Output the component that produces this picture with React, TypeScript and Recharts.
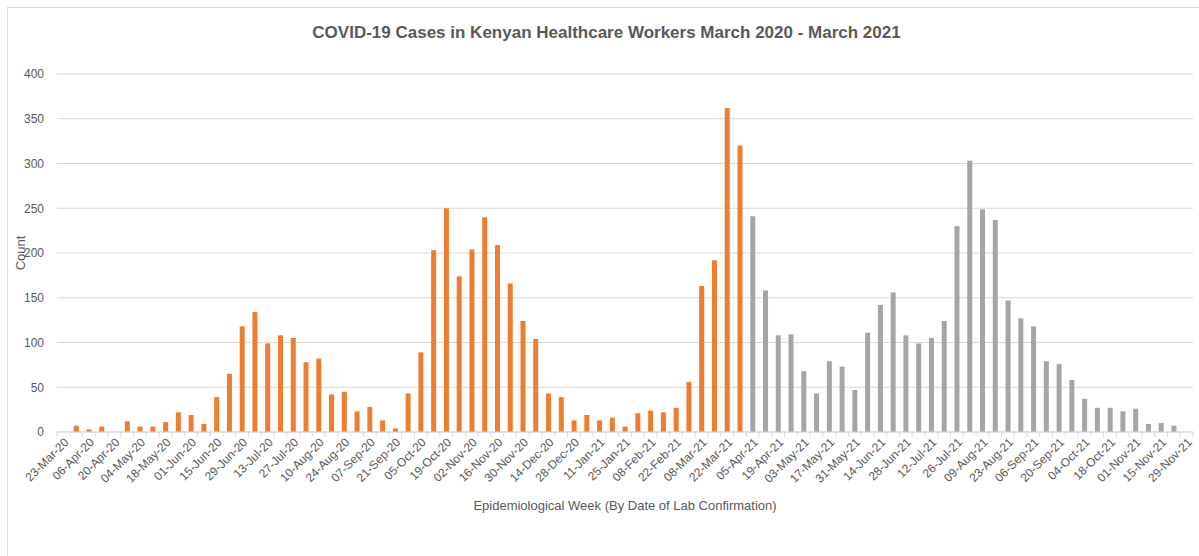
import React from "react";
import { BarChart, Bar, XAxis, YAxis, CartesianGrid } from "recharts";

// weekly epi weeks (Monday start)
const weeks = [
  "23-Mar-20", "30-Mar-20", "06-Apr-20", "13-Apr-20", "20-Apr-20", "27-Apr-20",
  "04-May-20", "11-May-20", "18-May-20", "25-May-20", "01-Jun-20", "08-Jun-20",
  "15-Jun-20", "22-Jun-20", "29-Jun-20", "06-Jul-20", "13-Jul-20", "20-Jul-20",
  "27-Jul-20", "03-Aug-20", "10-Aug-20", "17-Aug-20", "24-Aug-20", "31-Aug-20",
  "07-Sep-20", "14-Sep-20", "21-Sep-20", "28-Sep-20", "05-Oct-20", "12-Oct-20",
  "19-Oct-20", "26-Oct-20", "02-Nov-20", "09-Nov-20", "16-Nov-20", "23-Nov-20",
  "30-Nov-20", "07-Dec-20", "14-Dec-20", "21-Dec-20", "28-Dec-20", "04-Jan-21",
  "11-Jan-21", "18-Jan-21", "25-Jan-21", "01-Feb-21", "08-Feb-21", "15-Feb-21",
  "22-Feb-21", "01-Mar-21", "08-Mar-21", "15-Mar-21", "22-Mar-21", "29-Mar-21",
  "05-Apr-21", "12-Apr-21", "19-Apr-21", "26-Apr-21", "03-May-21", "10-May-21",
  "17-May-21", "24-May-21", "31-May-21", "07-Jun-21", "14-Jun-21", "21-Jun-21",
  "28-Jun-21", "05-Jul-21", "12-Jul-21", "19-Jul-21", "26-Jul-21", "02-Aug-21",
  "09-Aug-21", "16-Aug-21", "23-Aug-21", "30-Aug-21", "06-Sep-21", "13-Sep-21",
  "20-Sep-21", "27-Sep-21", "04-Oct-21", "11-Oct-21", "18-Oct-21", "25-Oct-21",
  "01-Nov-21", "08-Nov-21", "15-Nov-21", "22-Nov-21", "29-Nov-21",
];

// Mar 2020 - Mar 2021 (orange)
const firstPeriod = [
  0, 7, 3, 6, 0, 12, 6, 6, 11, 22,
  19, 9, 39, 65, 118, 134, 99, 108, 105, 78,
  82, 42, 45, 23, 28, 13, 4, 43, 89, 203,
  250, 174, 204, 240, 209, 166, 124, 104, 43, 39,
  13, 19, 13, 16, 6, 21, 24, 22, 27, 56,
  163, 192, 362, 320,
];

// Apr 2021 onwards (grey)
const secondPeriod = [
  241, 158, 108, 109, 68, 43, 79, 73, 47, 111,
  142, 156, 108, 99, 105, 124, 230, 303, 249, 237,
  147, 127, 118, 79, 76, 58, 37, 27, 27, 23,
  26, 9, 10, 7, 0,
];

const yTicks = [0, 50, 100, 150, 200, 250, 300, 350, 400];

const data = weeks.map((week, i) => ({
  week,
  first: i < firstPeriod.length ? firstPeriod[i] : null,
  second: i >= firstPeriod.length ? secondPeriod[i - firstPeriod.length] : null,
}));

const FONT = "'Liberation Sans', Arial, sans-serif";
const TEXT = "#595959";
const PLOT_LEFT = 57;
const PLOT_RIGHT = 1193;
const BAND = (PLOT_RIGHT - PLOT_LEFT) / weeks.length;

const WeekTick = (props: any) => {
  const { x, y, payload } = props;
  const i = payload.index;
  const left = x - BAND / 2;
  const right = x + BAND / 2;
  const tx = x + 6;
  const ty = y + 11;
  return (
    <g>
      <line x1={left} y1={y} x2={left} y2={y + 5} stroke="#d9d9d9" />
      {i === weeks.length - 1 && (
        <line x1={right} y1={y} x2={right} y2={y + 5} stroke="#d9d9d9" />
      )}
      {i % 2 === 0 && (
        <text
          x={tx}
          y={ty}
          textAnchor="end"
          fontSize={12}
          fontFamily={FONT}
          fill={TEXT}
          transform={`rotate(-45, ${tx}, ${ty})`}
        >
          {payload.value}
        </text>
      )}
    </g>
  );
};

export default function App() {
  return (
    <div
      style={{
        position: "absolute",
        left: 0,
        top: 0,
        width: 1199,
        height: 556,
        background: "#fff",
        overflow: "hidden",
        fontFamily: FONT,
      }}
    >
      <div
        style={{
          position: "absolute",
          left: 7,
          top: 7,
          width: 1210,
          height: 570,
          border: "1px solid #d9d9d9",
        }}
      />
      <div
        style={{
          position: "absolute",
          left: 0,
          width: 1213,
          top: 23,
          textAlign: "center",
          fontSize: 17,
          fontWeight: "bold",
          color: TEXT,
        }}
      >
        COVID-19 Cases in Kenyan Healthcare Workers March 2020 - March 2021
      </div>
      <div
        style={{
          position: "absolute",
          left: 20,
          top: 253,
          transform: "translate(-50%, -50%) rotate(-90deg)",
          fontSize: 13,
          color: TEXT,
          whiteSpace: "nowrap",
        }}
      >
        Count
      </div>
      <div
        style={{
          position: "absolute",
          left: 625,
          top: 505,
          transform: "translate(-50%, -50%)",
          fontSize: 13,
          color: TEXT,
          whiteSpace: "nowrap",
        }}
      >
        Epidemiological Week (By Date of Lab Confirmation)
      </div>
      <div style={{ position: "absolute", left: 0, top: 0 }}>
        <BarChart
          width={1199}
          height={556}
          data={data}
          margin={{ top: 74, right: 1199 - PLOT_RIGHT, bottom: 0, left: 0 }}
          barCategoryGap={0}
        >
          <CartesianGrid vertical={false} stroke="#d9d9d9" />
          <XAxis
            dataKey="week"
            interval={0}
            height={124}
            tickLine={false}
            tickSize={0}
            tickMargin={0}
            axisLine={{ stroke: "#d9d9d9" }}
            tick={<WeekTick />}
          />
          <YAxis
            width={PLOT_LEFT}
            domain={[0, 400]}
            ticks={yTicks}
            axisLine={false}
            tickLine={false}
            tickSize={0}
            tickMargin={13}
            tick={{ fontSize: 12, fill: TEXT, fontFamily: FONT }}
          />
          <Bar
            dataKey="first"
            stackId="a"
            fill="#ED7D31"
            barSize={5}
            isAnimationActive={false}
          />
          <Bar
            dataKey="second"
            stackId="a"
            fill="#A5A5A5"
            barSize={5}
            isAnimationActive={false}
          />
        </BarChart>
      </div>
    </div>
  );
}
